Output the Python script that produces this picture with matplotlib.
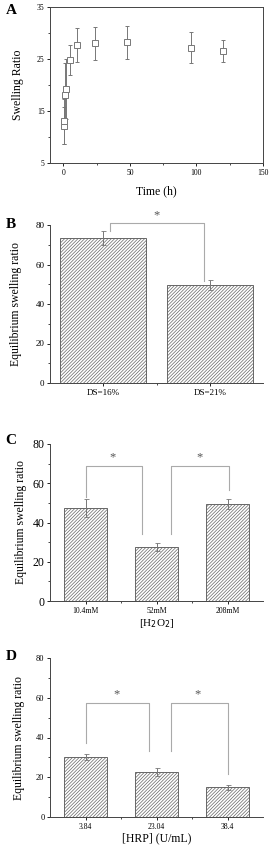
import matplotlib.pyplot as plt
from matplotlib.ticker import MultipleLocator, FixedLocator

plt.rcParams['font.family'] = ['Liberation Serif', 'DejaVu Serif']
plt.rcParams['hatch.linewidth'] = 0.5
plt.rcParams['hatch.color'] = '#777777'

# panel A data
time_h = [0.25, 0.5, 1, 2, 5, 10, 24, 48, 96, 120]
swell = [12.2, 13.0, 18.0, 19.2, 24.8, 27.7, 28.0, 28.2, 27.2, 26.5]
swell_err = [3.6, 4.4, 6.2, 5.8, 2.9, 3.2, 3.1, 3.2, 3.0, 2.1]

# panel B data
ds_labels = ['DS=16%', 'DS=21%']
ds_vals = [73.5, 49.5]
ds_err = [3.5, 2.5]

# panel C data
h2o2_labels = ['10.4mM', '52mM', '208mM']
h2o2_vals = [47.5, 27.5, 49.5]
h2o2_err = [4.6, 2.0, 2.5]

# panel D data
hrp_labels = ['3.84', '23.04', '38.4']
hrp_vals = [30.0, 22.5, 15.0]
hrp_err = [1.5, 2.0, 1.2]

gray = '#777777'
light = '#aaaaaa'

fig = plt.figure(figsize=(2.72, 8.5), dpi=100)
x0 = 50 / 272
w = 213 / 272

def place(top, bottom):
    return [x0, 1 - bottom / 850, w, (bottom - top) / 850]

# ---- A
axA = fig.add_axes(place(7, 163))
axA.errorbar(time_h, swell, yerr=swell_err, fmt='s', mfc='white', mec=gray,
             ms=5, mew=0.7, ecolor=gray, elinewidth=0.7, capsize=1.5, capthick=0.6)
axA.set_xlim(-10, 150)
axA.set_ylim(5, 35)
axA.set_yticks([5, 15, 25, 35])
axA.yaxis.set_minor_locator(MultipleLocator(5))
axA.set_xticks([0, 50, 100, 150])
axA.xaxis.set_minor_locator(MultipleLocator(25))
axA.set_ylabel('Swelling Ratio', fontsize=8.5, labelpad=9)
axA.set_xlabel('Time (h)', fontsize=8.5, labelpad=6)
axA.tick_params(labelsize=5.5, length=2.5, width=0.6, pad=1.5)
axA.tick_params(which='minor', length=1.5, width=0.5)
for s in axA.spines.values():
    s.set_linewidth(0.7)
    s.set_color('#444444')
fig.text(0.02, 1 - 11 / 850, 'A', fontsize=11, fontweight='bold', va='center')


def bar_panel(ax, labels, vals, errs, width, lab_size):
    xs = list(range(len(vals)))
    ax.bar(xs, vals, width=width, color='white', edgecolor='#666666', hatch='//////////',
           linewidth=0.7, yerr=errs, ecolor=gray,
           error_kw=dict(elinewidth=0.7, capsize=1.8, capthick=0.6))
    ax.set_xlim(-0.5, len(vals) - 0.5)
    ax.set_ylim(0, 80)
    ax.set_yticks([0, 20, 40, 60, 80])
    ax.yaxis.set_minor_locator(MultipleLocator(10))
    ax.set_xticks(xs)
    ax.set_xticklabels(labels, fontsize=lab_size)
    ax.xaxis.set_minor_locator(FixedLocator([x + 0.5 for x in xs[:-1]]))
    ax.spines['top'].set_visible(False)
    ax.spines['right'].set_visible(False)
    for s in ['left', 'bottom']:
        ax.spines[s].set_linewidth(0.7)
        ax.spines[s].set_color('#444444')
    ax.tick_params(length=2.5, width=0.6, pad=1.5)
    ax.tick_params(which='minor', length=1.5, width=0.5)


def bracket(ax, xl, xr, yl, yr, top, star_x, star_y):
    ax.plot([xl, xl, xr, xr], [yl, top, top, yr], color=light, lw=0.8, clip_on=False)
    ax.text(star_x, star_y, '*', ha='center', va='center', fontsize=9, color='#555555')


# ---- B
axB = fig.add_axes(place(225, 383))
bar_panel(axB, ds_labels, ds_vals, ds_err, 0.81, 6.5)
axB.tick_params(axis='y', labelsize=6.5)
axB.set_ylabel('Equilibrium swelling ratio', fontsize=8.5, labelpad=10)
bracket(axB, 0.06, 0.95, 77.2, 51.8, 80.8, 0.5, 85)
fig.text(0.02, 1 - 224 / 850, 'B', fontsize=11, fontweight='bold', va='center')

# ---- C
axC = fig.add_axes(place(444, 601))
bar_panel(axC, h2o2_labels, h2o2_vals, h2o2_err, 0.61, 5.5)
axC.tick_params(axis='y', labelsize=8.5)
axC.set_ylabel('Equilibrium swelling ratio', fontsize=8.5, labelpad=4)
bracket(axC, 0.0, 0.8, 53, 34, 69, 0.38, 73)
bracket(axC, 1.21, 2.02, 34, 56.5, 69, 1.6, 73)
axC.set_xlabel('[H$_2$O$_2$]', fontsize=8, labelpad=2)
fig.text(0.02, 1 - 441 / 850, 'C', fontsize=11, fontweight='bold', va='center')

# ---- D
axD = fig.add_axes(place(658, 817))
bar_panel(axD, hrp_labels, hrp_vals, hrp_err, 0.61, 5.5)
axD.tick_params(axis='y', labelsize=6)
axD.set_ylabel('Equilibrium swelling ratio', fontsize=8.5, labelpad=8)
bracket(axD, 0.0, 0.89, 37, 33, 57.5, 0.44, 61.5)
bracket(axD, 1.2, 2.0, 33, 21.6, 57.5, 1.58, 61.5)
axD.set_xlabel('[HRP] (U/mL)', fontsize=8.5, labelpad=1)
fig.text(0.02, 1 - 656 / 850, 'D', fontsize=11, fontweight='bold', va='center')

fig.savefig('out.png', dpi=100)
